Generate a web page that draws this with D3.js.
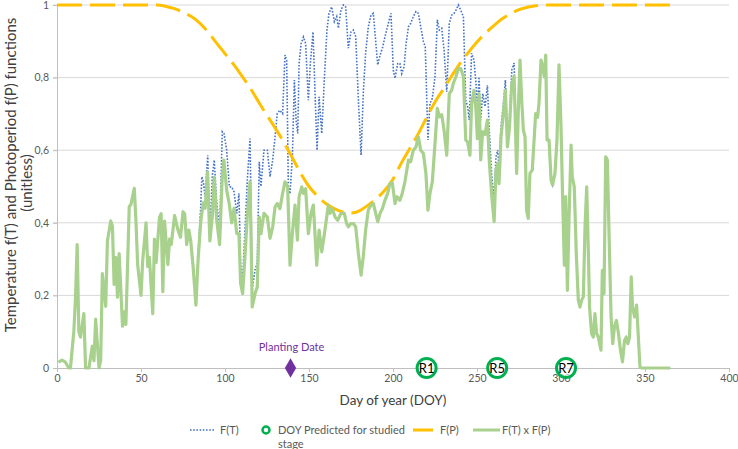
<!DOCTYPE html>
<html>
<head>
<meta charset="utf-8">
<script src="https://cdn.jsdelivr.net/npm/d3@7"></script>
<style>
  body { margin: 0; background: #fff; }
  text { font-family: Lato, "Open Sans", sans-serif; }
</style>
</head>
<body>
<svg id="chart"></svg>
<script>
// F(T) x F(P): [day of year, value]
const ftxfp = [
  [1,0.016],[3,0.022],[5,0.016],[7,0],[8,0],[10,0.10],[11,0.19],[12,0.34],[13,0.10],[14,0.085],
  [16,0.15],[17,0],[19,0],[21,0.06],[22,0.02],[23,0.135],[25,0],[26,0.02],[27,0.26],[29,0.17],
  [30,0.35],[32,0.405],[33,0.39],[34,0.23],[35,0.305],[36,0.195],[37,0.315],[39,0.115],[40,0.155],
  [41,0.12],[43,0.445],[44,0.45],[46,0.495],[47,0.405],[48,0.285],[50,0.20],[51,0.295],[53,0.40],
  [54,0.28],[55,0.305],[57,0.15],[58,0.355],[59,0.29],[61,0.415],[62,0.425],[63,0.21],[64,0.405],
  [66,0.285],[67,0.355],[68,0.34],[70,0.42],[72,0.38],[73.5,0.36],[75,0.43],[76,0.425],[77.2,0.34],
  [78.5,0.38],[79.6,0.35],[81,0.28],[82.7,0.173],[84,0.30],[85.5,0.40],[87,0.455],[88.2,0.44],
  [89.6,0.54],[91,0.35],[92.5,0.42],[93.6,0.525],[95,0.41],[96.8,0.34],[98.3,0.52],[99.3,0.573],
  [101,0.49],[102.6,0.45],[104,0.40],[105.4,0.44],[107,0.37],[108.3,0.37],[109.3,0.233],[110.5,0.205],
  [112,0.315],[113.3,0.42],[114.9,0.513],[115.6,0.334],[116.2,0.168],[117.9,0.205],[119.2,0.223],
  [120.4,0.416],[121.4,0.37],[123.2,0.426],[125.2,0.416],[126.8,0.357],[128.4,0.389],[129.8,0.444],
  [131.1,0.453],[132.7,0.439],[134.3,0.481],[135.7,0.513],[137.3,0.499],[138.7,0.283],[140.1,0.37],
  [141.7,0.449],[143.1,0.352],[144.1,0.472],[145.7,0.499],[146.7,0.481],[148,0.494],[149.6,0.37],
  [151.2,0.426],[152.6,0.449],[154.6,0.283],[156,0.38],[157.6,0.32],[159.5,0.38],[161.5,0.449],
  [162.5,0.426],[163.9,0.439],[165.5,0.416],[167.1,0.407],[169,0.426],[171,0.426],[172.4,0.398],
  [173.4,0.389],[175,0.398],[176.4,0.398],[177.8,0.389],[179.4,0.315],[181,0.256],[182.3,0.306],
  [183.7,0.38],[185.3,0.435],[186.9,0.449],[188.3,0.453],[189.7,0.426],[190.9,0.403],[192.3,0.426],
  [193.7,0.439],[195.2,0.462],[196.8,0.481],[198.2,0.508],[199.6,0.51],[201.2,0.453],[202.4,0.472],
  [204.1,0.462],[205.5,0.481],[207.1,0.513],[209.2,0.573],[210.5,0.568],[212.1,0.6],[213.7,0.609],
  [215.1,0.637],[216.5,0.6],[218.1,0.591],[219.6,0.536],[220.8,0.435],[222,0.481],[223.4,0.513],
  [225,0.619],[226.4,0.715],[227.6,0.692],[229,0.698],[230.4,0.655],[232,0.586],[233.5,0.756],
  [234.9,0.765],[235.9,0.784],[237.5,0.803],[238.9,0.825],[240.3,0.825],[241.9,0.803],[243.3,0.628],
  [244.4,0.623],[245.8,0.586],[246.8,0.729],[248.2,0.765],[249.4,0.71],[250.2,0.632],[251.2,0.756],
  [252.2,0.573],[253.4,0.651],[254.8,0.643],[256.2,0.683],[257.4,0.563],[258.8,0.472],[260.2,0.403],
  [261.3,0.545],[262.3,0.563],[263.1,0.508],[264.3,0.637],[265.7,0.701],[266.9,0.765],[268.1,0.609],
  [269.3,0.66],[270.7,0.784],[272.1,0.803],[273.6,0.536],[274.6,0.71],[275.6,0.848],[276.6,0.738],
  [277.6,0.655],[278.6,0.637],[279.5,0.435],[280.5,0.412],[281.5,0.536],[282.9,0.545],[284.1,0.637],
  [284.9,0.701],[286.1,0.692],[286.9,0.729],[288.1,0.848],[289.1,0.83],[290.1,0.802],[290.9,0.862],
  [291.7,0.628],[292.9,0.628],[294.1,0.517],[295,0.504],[296.4,0.536],[297.6,0.628],[298.8,0.835],
  [300,0.665],[301,0.462],[302,0.283],[302.8,0.472],[303.8,0.214],[304.8,0.416],[306,0.614],
  [306.7,0.527],[307.9,0.499],[309.1,0.315],[310.3,0.187],[311.3,0.168],[312.3,0.187],[313.3,0.196],
  [314.3,0.389],[315.3,0.499],[316.3,0.315],[317,0.168],[318.2,0.095],[319.2,0.085],[320.2,0.15],
  [321.2,0.095],[322.2,0.085],[323.8,0.049],[324.6,0.269],[325.6,0.205],[326.6,0.582],[327.6,0.573],
  [328.6,0.37],[329.8,0.141],[330.8,0.067],[331.8,0.113],[333,0.131],[334.2,0.095],[335.4,0.049],
  [336.6,0.017],[337.8,0.076],[338.8,0.085],[339.8,0.067],[340.8,0.085],[341.8,0.251],[342.6,0.168],
  [343.8,0.141],[345,0.173],[347,0.003],[348,0],[365,0]
];

// F(T) where it rises above the green line (elsewhere it lies under it)
const ftVisible = [
  [84,0.31],[85.5,0.44],[86.2,0.527],[87.1,0.513],[88.1,0.472],[89.7,0.586],[91,0.375],[92.5,0.531],
  [93.6,0.573],[95,0.46],[96.8,0.38],[98.4,0.651],[99.4,0.646],[101,0.6],[102.6,0.499],[104,0.499],
  [105.4,0.485],[107,0.426],[108.3,0.481],[109.3,0.277],[110.5,0.245],[112,0.39],[113.3,0.52],
  [114.9,0.632],[115.6,0.43],[116.2,0.218],[117.9,0.27],[119.2,0.29],[120.4,0.568],[121.4,0.5],
  [123.2,0.6],[125.2,0.6],[126.8,0.527],[128.4,0.573],[129.8,0.637],[131.1,0.701],[132.7,0.71],
  [134.3,0.701],[135.7,0.862],[136.7,0.848],[137.7,0.5],[138.7,0.48],[140.1,0.582],[141.3,0.793],
  [142.3,0.683],[143.3,0.646],[144.1,0.839],[145.3,0.894],[146.7,0.912],[148,0.894],[149.6,0.738],
  [150.8,0.839],[152.4,0.926],[153.6,0.756],[154.8,0.6],[156,0.747],[157.6,0.646],[159.1,0.793],
  [160.7,0.931],[161.9,0.977],[163.5,0.995],[165.1,0.954],[166.5,0.968],[167.5,0.936],[169,0.986],
  [170.5,1.0],[171.8,0.995],[173.4,0.881],[175,0.926],[176.4,0.931],[177.8,0.913],[179.4,0.738],
  [181,0.586],[182.3,0.756],[183.7,0.867],[185.3,0.94],[186.9,0.972],[188.3,0.977],[189.3,0.922],
  [190.9,0.835],[192.3,0.862],[193.7,0.881],[195.2,0.912],[197.2,0.949],[198.8,0.977],[200.2,0.82],
  [201.2,0.798],[202.8,0.839],[204.1,0.839],[205.2,0.811],[206.6,0.83],[207.8,0.894],[209.2,0.94],
  [210.5,0.949],[212.1,0.968],[213.7,0.982],[215.1,0.977],[216.5,0.94],[218.1,0.899],[219.2,0.885],
  [220.8,0.628],[222,0.729],[223.4,0.743],[225,0.802],[226.4,0.959],[227.6,0.931],[229,0.936],
  [230.4,0.876],[232,0.761],[233.5,0.949],[234.9,0.972],[236.3,0.977],[237.5,0.986],[238.9,1.0],
  [240.3,0.986],[241.9,0.968],[243.3,0.738],[244.4,0.72],[245.4,0.683],[246.8,0.867],[248.2,0.848],
  [249.4,0.784],[250.2,0.71],[251.2,0.802],[252.2,0.683],[253.4,0.756],[254.8,0.72],[256.2,0.779],
  [257.4,0.646],[258.8,0.527],[260.2,0.467],[261.3,0.582],[262.3,0.6],[263.1,0.554],[264.3,0.665],
  [265.7,0.729],[266.9,0.793],[268.1,0.637],[269.3,0.683],[270.7,0.821],[272.1,0.84],[273.6,0.55],
  [274.6,0.73]
];

// F(P) photoperiod curve
const fpDays = [0,20,40,60,65,70,75,80,85,90,95,100,105,110,115,120,125,130,135,140,145,150,155,160,
  165,170,175,180,185,190,195,200,205,210,215,220,225,230,235,240,245,250,255,260,265,270,275,280,
  285,290,310,330,350,365];
const fpValues = [1,1,1,1,0.996,0.99,0.98,0.968,0.95,0.925,0.895,0.866,0.837,0.805,0.771,0.733,0.696,
  0.66,0.622,0.58,0.537,0.5,0.474,0.453,0.439,0.43,0.427,0.433,0.448,0.466,0.489,0.52,0.565,0.605,
  0.645,0.69,0.733,0.768,0.805,0.84,0.87,0.898,0.922,0.943,0.962,0.976,0.987,0.994,0.998,1,1,1,1,1];

// stages
const stageNames = ["R1", "R5", "R7"];
const stageDays = [220, 262, 303];
const plantingDay = 139;

const xTicks = [0, 50, 100, 150, 200, 250, 300, 350, 400];
const yTicks = [0, 0.2, 0.4, 0.6, 0.8, 1];

const W = 738, H = 449;
const margin = { top: 5, right: 9, bottom: 81, left: 57 };

const svg = d3.select("#chart").attr("width", W).attr("height", H);

const x = d3.scaleLinear().domain([0, 400]).range([margin.left, W - margin.right]);
const y = d3.scaleLinear().domain([0, 1]).range([H - margin.bottom, margin.top]);

// gridlines
svg.append("g")
  .selectAll("line")
  .data(yTicks.filter(d => d > 0))
  .enter()
  .append("line")
  .attr("x1", x(0) - 4)
  .attr("x2", x(400))
  .attr("y1", d => y(d))
  .attr("y2", d => y(d))
  .attr("stroke", "#d9d9d9")
  .attr("stroke-width", 1);

// axes
let fmt = d => (d === 0 || d === 1) ? String(d) : String(d).replace(".", ",");

let yAxis = svg.append("g")
  .attr("transform", "translate(" + x(0) + ",0)")
  .call(d3.axisLeft(y).tickValues(yTicks).tickFormat(fmt).tickSize(4).tickPadding(4));
let xAxis = svg.append("g")
  .attr("transform", "translate(0," + y(0) + ")")
  .call(d3.axisBottom(x).tickValues(xTicks).tickSize(4).tickPadding(3));

[xAxis, yAxis].forEach(a => {
  a.select(".domain").attr("stroke", "#bfbfbf");
  a.selectAll(".tick line").attr("stroke", "#bfbfbf");
  a.selectAll(".tick text")
    .attr("fill", "#595959")
    .attr("font-size", "10.5px")
    .style("font-family", "Lato, sans-serif");
});

// axis titles
svg.append("text")
  .attr("x", 393)
  .attr("y", 405)
  .attr("text-anchor", "middle")
  .attr("fill", "#404040")
  .attr("font-size", "13.5px")
  .text("Day of year (DOY)");

let yTitle = svg.append("text")
  .attr("transform", "translate(16,175) rotate(-90)")
  .attr("text-anchor", "middle")
  .attr("fill", "#404040")
  .attr("font-size", "15px");
yTitle.append("tspan").attr("x", 0).attr("dy", 0).text("Temperature  f(T) and Photoperiod f(P) functions");
yTitle.append("tspan").attr("x", -8).attr("dy", 16).text("(unitless)");

// series
let line = d3.line().x(d => x(d[0])).y(d => y(d[1]));

// F(T): same as the green line where F(P) = 1
let ft = ftxfp.filter(d => d[0] < 84)
  .concat(ftVisible)
  .concat(ftxfp.filter(d => d[0] > 274.6));

svg.append("path")
  .datum(ft)
  .attr("d", line)
  .attr("fill", "none")
  .attr("stroke", "#4472c4")
  .attr("stroke-width", 1.6)
  .attr("stroke-dasharray", "1.6,1.6");

svg.append("path")
  .datum(fpDays.map((d, i) => [d, fpValues[i]]))
  .attr("d", line.curve(d3.curveMonotoneX))
  .attr("fill", "none")
  .attr("stroke", "#ffc000")
  .attr("stroke-width", 3)
  .attr("stroke-dasharray", "25,8");

line.curve(d3.curveLinear);

svg.append("path")
  .datum(ftxfp)
  .attr("d", line)
  .attr("fill", "none")
  .attr("stroke", "#a9d18e")
  .attr("stroke-width", 3.2)
  .attr("stroke-linejoin", "round");

// planting date
svg.append("path")
  .attr("d", d3.symbol().type(d3.symbolDiamond).size(110))
  .attr("transform", "translate(" + x(plantingDay) + "," + y(0) + ")")
  .attr("fill", "#7030a0");
svg.append("text")
  .attr("x", x(plantingDay) + 1)
  .attr("y", y(0) - 17)
  .attr("text-anchor", "middle")
  .attr("fill", "#7030a0")
  .attr("font-size", "11px")
  .text("Planting Date");

// predicted stages
let stages = svg.append("g")
  .selectAll("g")
  .data(stageDays)
  .enter()
  .append("g")
  .attr("transform", d => "translate(" + x(d) + "," + y(0) + ")");
stages.append("circle")
  .attr("r", 9.5)
  .attr("fill", "#fff")
  .attr("fill-opacity", 0.6)
  .attr("stroke", "#00b050")
  .attr("stroke-width", 3);
stages.append("text")
  .attr("y", 5)
  .attr("text-anchor", "middle")
  .attr("fill", "#000")
  .attr("font-size", "13px")
  .text((d, i) => stageNames[i]);

// legend
let lg = svg.append("g").attr("transform", "translate(0,430)");
lg.append("line").attr("x1", 190).attr("x2", 215).attr("y1", 0).attr("y2", 0)
  .attr("stroke", "#4472c4").attr("stroke-width", 1.6).attr("stroke-dasharray", "1.6,1.6");
lg.append("text").attr("x", 220).attr("y", 4).text("F(T)");
lg.append("circle").attr("cx", 266).attr("cy", 0).attr("r", 3.5)
  .attr("fill", "#fff").attr("stroke", "#00b050").attr("stroke-width", 2.5);
lg.append("text").attr("x", 278).attr("y", 4).text("DOY Predicted for studied");
lg.append("text").attr("x", 278).attr("y", 18).text("stage");
lg.append("line").attr("x1", 413).attr("x2", 433).attr("y1", 0).attr("y2", 0)
  .attr("stroke", "#ffc000").attr("stroke-width", 3);
lg.append("text").attr("x", 440).attr("y", 4).text("F(P)");
lg.append("line").attr("x1", 473).attr("x2", 500).attr("y1", 0).attr("y2", 0)
  .attr("stroke", "#a9d18e").attr("stroke-width", 3);
lg.append("text").attr("x", 502).attr("y", 4).text("F(T) x F(P)");
lg.selectAll("text").attr("fill", "#595959").attr("font-size", "11px");
</script>
</body>
</html>
